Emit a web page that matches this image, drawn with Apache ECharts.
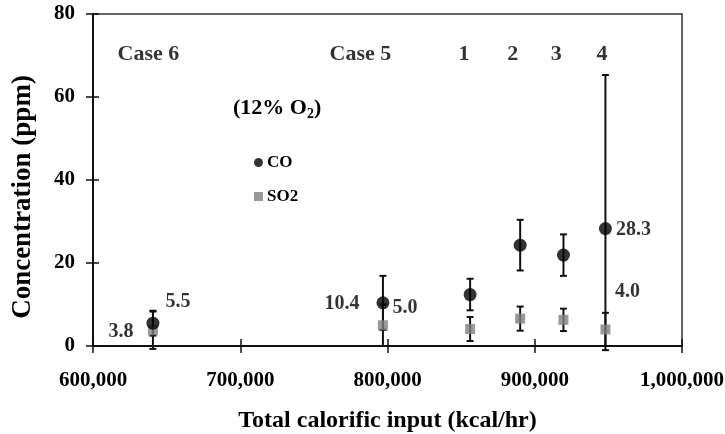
<!DOCTYPE html>
<html><head><meta charset="utf-8">
<script src="https://cdn.jsdelivr.net/npm/echarts@6/dist/echarts.min.js"></script>
<style>html,body{margin:0;padding:0;background:#fff}#c{width:725px;height:434px}</style>
</head><body><div id="c"></div>
<script>
// ---- data ----
var caseNames = ['Case 6', 'Case 5', '1', '2', '3', '4'];
var calorificInput = [640700, 796900, 856100, 890100, 919500, 948000];
var coValues = [5.5, 10.4, 12.4, 24.3, 21.9, 28.3];
var coErrors = [3.0, 6.5, 3.8, 6.1, 5.0, 37.0];
var so2Values = [3.8, 5.0, 4.1, 6.6, 6.3, 4.0];
var so2Errors = [4.5, 5.0, 2.9, 2.9, 2.7, 4.0];
var caseLabelX = [637600, 781600, 852000, 885000, 914600, 945600];
var caseLabelY = 70.4;
var xTicks = [600000, 700000, 800000, 900000, 1000000];
var yTicks = [0, 20, 40, 60, 80];
// indices of points carrying value labels
var coLabelIdx = [0, 1, 5];
var so2LabelIdx = [0, 1, 5];

// ---- styling (not data) ----
var FONT = '"Liberation Serif","Times New Roman",serif';
var INK = '#000';
var coLabelOffset = {0: [25, -21], 1: [-41, 1], 5: [28, 1]};
var so2LabelOffset = {0: [-32, 2], 1: [22, -17], 5: [22, -38]};

function fmt(v){ return v.toString().replace(/\B(?=(\d{3})+(?!\d))/g, ','); }

function errData(vals, errs){
  return calorificInput.map(function(x,i){ return [x, vals[i]-errs[i], vals[i]+errs[i]]; });
}
function errRender(params, api){
  var x = api.value(0);
  var lo = Math.max(api.value(1), -1);
  var hi = api.value(2);
  var p1 = api.coord([x, lo]);
  var p2 = api.coord([x, hi]);
  var w = 3.5;
  var st = {stroke: '#111', lineWidth: 2};
  return {type: 'group', children: [
    {type: 'line', shape: {x1: p1[0], y1: p1[1], x2: p2[0], y2: p2[1]}, style: st},
    {type: 'line', shape: {x1: p1[0]-w, y1: p1[1], x2: p1[0]+w, y2: p1[1]}, style: st},
    {type: 'line', shape: {x1: p2[0]-w, y1: p2[1], x2: p2[0]+w, y2: p2[1]}, style: st}
  ]};
}
function pointData(vals, labelIdx, offsets){
  return calorificInput.map(function(x,i){
    var d = {value: [x, vals[i]]};
    if (labelIdx.indexOf(i) >= 0) {
      d.label = {show: true, position: 'inside', offset: offsets[i], textBorderWidth: 0,
        formatter: vals[i].toFixed(1), color: INK, fontFamily: FONT, fontWeight: 'bold', fontSize: 20};
    }
    return d;
  });
}

var chart = echarts.init(document.getElementById('c'), null, {renderer: 'canvas'});
var axisTxt = {color: INK, fontFamily: FONT, fontWeight: 'bold', fontSize: 21};
var option = {
  animation: false,
  backgroundColor: '#fff',
  grid: {left: 93, right: 43, top: 14, bottom: 88, outerBoundsMode: 'none', containLabel: false,
    show: true, borderColor: '#333', borderWidth: 1.5, backgroundColor: 'transparent'},
  legend: {
    orient: 'vertical', left: 249, top: 149, itemGap: 17, itemWidth: 9, itemHeight: 9,
    data: [{name: 'CO', icon: 'circle'}, {name: 'SO2', icon: 'rect'}],
    textStyle: {color: INK, fontFamily: FONT, fontWeight: 'bold', fontSize: 17, padding: [0,0,0,-1]}
  },
  xAxis: [{
    type: 'value', min: xTicks[0], max: xTicks[xTicks.length-1], interval: 100000,
    name: 'Total calorific input (kcal/hr)', nameLocation: 'middle', nameGap: 63,
    nameTextStyle: {color: INK, fontFamily: FONT, fontWeight: 'bold', fontSize: 24},
    axisLine: {onZero: false, lineStyle: {color: '#111', width: 2}},
    axisTick: {length: 7, lineStyle: {color: '#111', width: 1.5}},
    axisLabel: Object.assign({margin: 24, formatter: fmt}, axisTxt),
    splitLine: {show: false}
  }, {
    type: 'value', min: xTicks[0], max: xTicks[xTicks.length-1], interval: 100000, position: 'bottom',
    axisLine: {show: false}, axisTick: {inside: true, length: 7, lineStyle: {color: '#111', width: 1.5}},
    axisLabel: {show: false}, splitLine: {show: false}
  }],
  yAxis: [{
    type: 'value', min: yTicks[0], max: yTicks[yTicks.length-1], interval: 20,
    name: 'Concentration (ppm)', nameLocation: 'middle', nameGap: 56,
    nameTextStyle: {color: INK, fontFamily: FONT, fontWeight: 'bold', fontSize: 27, padding: [0, 34, 0, 0]},
    axisLine: {show: true, lineStyle: {color: '#111', width: 2}},
    axisTick: {show: true, length: 7, lineStyle: {color: '#111', width: 1.5}},
    axisLabel: Object.assign({margin: 18}, axisTxt),
    splitLine: {show: false}
  }, {
    type: 'value', min: yTicks[0], max: yTicks[yTicks.length-1], interval: 20, position: 'left',
    axisLine: {show: false}, axisTick: {show: true, inside: true, length: 6, lineStyle: {color: '#111', width: 1.5}},
    axisLabel: {show: false}, splitLine: {show: false}
  }],
  graphic: [{
    type: 'text', left: 233, top: 97,
    style: {
      text: '{a|(12% O}{s|2}{a|)}',
      rich: {
        a: {fontFamily: FONT, fontWeight: 'bold', fontSize: 22, fill: INK},
        s: {fontFamily: FONT, fontWeight: 'bold', fontSize: 14, fill: INK, padding: [12,0,0,0]}
      }
    }
  }],
  series: [
    {type: 'custom', name: 'coErr', renderItem: errRender, data: errData(coValues, coErrors), clip: false, z: 2, silent: true},
    {type: 'custom', name: 'so2Err', renderItem: errRender, data: errData(so2Values, so2Errors), clip: false, z: 2, silent: true},
    {type: 'scatter', name: 'SO2', symbol: 'rect', symbolSize: 10, itemStyle: {color: '#7f7f7f'}, z: 3,
      data: pointData(so2Values, so2LabelIdx, so2LabelOffset)},
    {type: 'scatter', name: 'CO', symbol: 'circle', symbolSize: 13, itemStyle: {color: '#000'}, z: 4,
      data: pointData(coValues, coLabelIdx, coLabelOffset)},
    {type: 'scatter', name: 'cases', symbolSize: 0, silent: true, z: 5,
      data: caseLabelX.map(function(x,i){ return {value: [x, caseLabelY], name: caseNames[i]}; }),
      label: {show: true, position: 'inside', formatter: '{b}', color: INK, textBorderWidth: 0, fontFamily: FONT, fontWeight: 'bold', fontSize: 22}}
  ]
};
chart.setOption(option);
</script></body></html>
